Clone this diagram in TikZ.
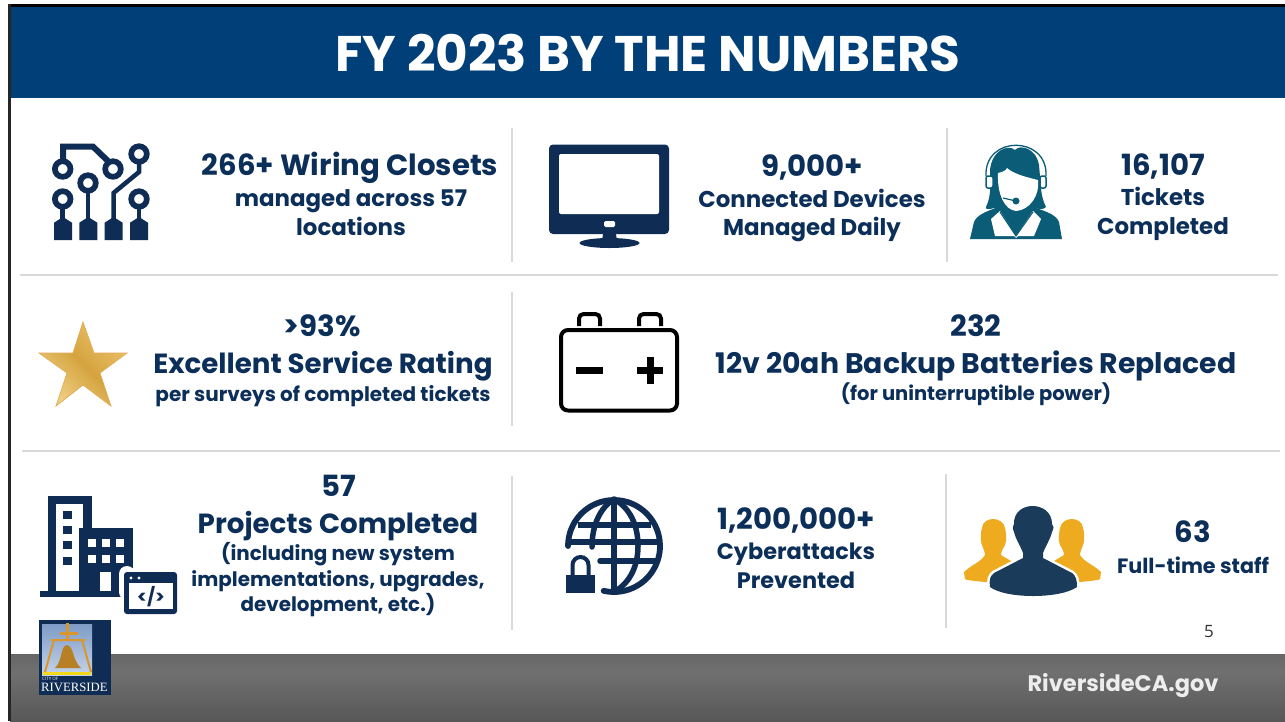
\documentclass[tikz,border=0pt]{standalone}
\usepackage{fontspec}
\setmainfont{Poppins}
\newfontfamily\serifface{Liberation Serif}
\newfontfamily\plainface{Open Sans}
\definecolor{navy}{HTML}{0F2D54}
\definecolor{txtnavy}{HTML}{0C2F5A}
\definecolor{banner}{HTML}{003F77}
\definecolor{teal}{HTML}{0B5C77}
\definecolor{rule}{HTML}{D9D9D9}
\definecolor{gold}{HTML}{EEAB1F}
\definecolor{dkblue}{HTML}{1B3B5A}
\definecolor{grayA}{HTML}{666666}
\definecolor{grayM}{HTML}{707070}
\definecolor{grayB}{HTML}{575757}
\definecolor{brass}{HTML}{D9962A}
\definecolor{starA}{HTML}{F0D084}
\definecolor{starB}{HTML}{D5A440}
\definecolor{starC}{HTML}{EBC068}
\definecolor{skyA}{HTML}{7E9CC6}
\definecolor{skyB}{HTML}{C5D3EA}
\tikzset{
 txt/.style={align=center,text=txtnavy,inner sep=0pt},
 big/.style={txt,font=\bfseries\fs{29.2}{32}},
 mid/.style={txt,font=\bfseries\fs{27.7}{32}},
 lab/.style={txt,font=\bfseries\fs{22.9}{28.8}},
 sml/.style={txt,font=\bfseries\fs{20}{24}},
 ruleline/.style={draw=rule,line width=2.5pt},
 trace/.style={draw=navy,line width=5.7pt,fill=white},
 tr/.style={draw=navy,line width=4.5pt,line join=miter},
}
\newcommand{\fs}[2]{\fontsize{#1}{#2}\selectfont}
\begin{document}
\begin{tikzpicture}[x=1pt,y=-1pt]
\useasboundingbox (0,0) rectangle (1285,721);
\fill[white] (0,0) rectangle (1285,721);
% banner and footer
\fill[banner] (9,5) rectangle (1285,98);
\shade[top color=grayA,bottom color=grayM] (10,654) rectangle (1285,672);
\shade[top color=grayM,bottom color=grayB] (10,672) rectangle (1285,721);
\fill[black] (8,4) rectangle (1285,7);
\fill[black!85] (8,4) rectangle (10.5,721);
\node[text=white,font=\bfseries\fs{50}{54},inner sep=0pt] (title) at (648,52.5) {FY 2023 BY THE NUMBERS};
% rules
\draw[ruleline] (20,275) -- (1278,275);
\draw[ruleline] (22,451) -- (1280,451);
\draw[ruleline] (512,128) -- (512,262);
\draw[ruleline] (947,128) -- (947,262);
\draw[ruleline] (512,292) -- (512,426);
\draw[ruleline] (512,476) -- (512,630);
\draw[ruleline] (946,474) -- (946,628);
% texts
\node[big] (a1) at (350,167.5) {266+ Wiring Closets};
\node[lab] (a2) at (351,212.5) {managed across 57\\locations};
\node[big] (b1) at (812,167.5) {9,000+};
\node[lab] (b2) at (812,215.5) {Connected Devices\\Managed Daily};
\node[big] (c1) at (1163,166.5) {16,107};
\node[lab] (c2) at (1163,214) {Tickets\\Completed};
\node[big] (d1) at (322,326) {>93\%};
\node[mid] (d2) at (323,366) {Excellent Service Rating};
\node[sml] (d3) at (323,396) {per surveys of completed tickets};
\node[big] (e1) at (976,326) {232};
\node[mid,font=\bfseries\fs{28.3}{32}] (e2) at (976,366) {12v 20ah Backup Batteries Replaced};
\node[sml,font=\bfseries\fs{19.5}{24}] (e3) at (976,394) {(for uninterruptible power)};
\node[big] (f1) at (339,486) {57};
\node[mid] (f2) at (338,526) {Projects Completed};
\node[txt,font=\bfseries\fs{19.9}{25.5}] (f3) at (338,580) {(including new system\\implementations, upgrades,\\development, etc.)};
\node[big] (g1) at (796,520.5) {1,200,000+};
\node[lab,font=\bfseries\fs{22.4}{28.8}] (g2) at (796,566) {Cyberattacks\\Prevented};
\node[big] (h1) at (1193,532) {63};
\node[lab,font=\bfseries\fs{20.7}{28}] (h2) at (1193,565) {Full-time staff};
\node[text=black!80,font=\plainface\fs{17}{20},inner sep=0pt] (pg) at (1209,632) {5};
\node[text=white!93!black,font=\bfseries\fs{22.5}{28},inner sep=0pt] (web) at (1123,686) {RiversideCA.gov};
% circuit icon
\draw[draw=navy,line width=6pt,line join=miter] (63,165) -- (63,146.6) -- (93,146.6) -- (110,163);
\draw[tr] (88,180) -- (88,225);
\draw[tr] (62.7,195) -- (62.7,225);
\draw[tr] (139,160) -- (139,172) -- (113.5,193) -- (113.5,225);
\draw[tr] (139,195) -- (139,225);
\foreach \x in {54,79.3,104.6,130}{
 \fill[navy] (\x,240) -- (\x,222.7) -- (\x+9,217) -- (\x+18,222.7) -- (\x+18,240) -- cycle;}
\draw[trace] (62.7,169) circle (7.8);
\draw[trace] (88,183) circle (7.8);
\draw[trace] (113,169) circle (7.8);
\draw[trace] (62.7,199) circle (7.8);
\draw[trace] (139,154) circle (7.8);
\draw[trace] (139,199) circle (7.8);
% monitor
\fill[navy,rounded corners=4pt] (549,144.5) rectangle (669,234);
\fill[white,rounded corners=2pt] (559,154) rectangle (659,214);
\fill[white,rounded corners=1.5pt] (604,221) rectangle (615,227);
\fill[navy] (603,234) -- (616,234) -- (617,241) -- (602,241) -- cycle;
\fill[navy] (609.5,243) ellipse (30 and 5);
% agent
\fill[teal] (970,239) -- (974,222) .. controls (977,215) and (985,212) .. (998,207) -- (1033,207) .. controls (1048,212) and (1056,215) .. (1059,222) -- (1062,239) -- cycle;
\fill[teal] (1015,150) .. controls (1020,144) and (1036,148) .. (1039,165) .. controls (1041,185) and (1040,195) .. (1046,207) .. controls (1044,210) and (1038,209) .. (1034,208) -- (994,208) .. controls (988,210) and (985,209) .. (986,207) .. controls (992,195) and (990,180) .. (990,170) .. controls (992,150) and (1008,144) .. (1015,150) -- cycle;
\fill[white] (998,173) .. controls (1002,172) and (1006,171) .. (1007,168) .. controls (1012,173) and (1025,177) .. (1038,180) .. controls (1040,195) and (1030,210) .. (1016,211) .. controls (1005,210) and (997,195) .. (998,173) -- cycle;
\fill[white] (991,219) -- (1000,211) -- (1016,236) -- (1033,211) -- (1041,219) -- (1034,236) -- (1018,236) -- (1016,238) -- (1014,236) -- (995,236) -- cycle;
\draw[teal,line width=1pt] (1000,212) -- (1016,236) -- (1033,212);
\draw[teal,line width=1.3pt] (986,176) .. controls (984,135) and (1048,135) .. (1046,176);
\draw[teal,fill=white,line width=1.5pt,rounded corners=2pt] (986,176) rectangle (993,188);
\draw[teal,fill=white,line width=1.5pt,rounded corners=2pt] (1040,176) rectangle (1046,188);
\draw[teal,line width=1.2pt] (1003,198) -- (1016,201);
\fill[teal] (1016,201) circle (3.5);
% star
\shade[left color=starA,right color=starC,middle color=starB,shading angle=135,draw=brass!80!white,line width=.7pt]
 (83,322) -- (94,353) -- (127,353) -- (100,373) -- (111,406) -- (83,385) -- (56,406) -- (67,373) -- (39,353) -- (73,353) -- cycle;
% battery
\draw[black,line width=4pt,rounded corners=7pt] (561,330) rectangle (677,410.5);
\draw[black,line width=4pt,rounded corners=4.5pt] (579,326) -- (579,314) -- (600,314) -- (600,326);
\draw[black,line width=4pt,rounded corners=4.5pt] (639,326) -- (639,314) -- (661,314) -- (661,326);
\fill[black] (576,367) rectangle (603,374);
\fill[black] (637,367) rectangle (663,374);
\fill[black] (647,357) rectangle (654,384);
% building
\fill[navy] (48,496) rectangle (92,591);
\fill[white] (56,504) rectangle (83,591);
\fill[navy] (79,528) rectangle (133,597);
\fill[navy] (40,591) rectangle (125,597);
\foreach \y in {511,526,541,557}{\fill[navy] (63,\y) rectangle (72,\y+8);}
\foreach \x in {88,102,116}{\foreach \y in {539,555}{\fill[white] (\x,\y) rectangle (\x+8,\y+8);}}
\fill[white] (100,572) rectangle (111,591);
\fill[white,rounded corners=8pt] (119,566) rectangle (135,600);
\fill[navy,rounded corners=3pt] (124,572) rectangle (177,614);
\fill[white] (129,583) rectangle (173,609);
\fill[white] (131,578) circle (1.6) (139,578) circle (1.6);
\node[text=navy,font=\bfseries\fs{18}{20},inner sep=0pt] (code) at (151,597) {</>};
% globe
\draw[navy,line width=5.8pt,line cap=round] (568,546) arc (180:463:46);
\draw[navy,line width=5.5pt] (614,499) -- (614,592);
\draw[navy,line width=5.5pt] (578,525) -- (651,525);
\draw[navy,line width=5.5pt] (568,542) -- (660,542);
\draw[navy,line width=5.5pt,line cap=round] (600,561) -- (657,561);
\draw[navy,line width=5.5pt,line cap=round] (592,547) .. controls (592,525) and (600,508) .. (614,499);
\draw[navy,line width=5.5pt] (614,499) .. controls (630,508) and (638,525) .. (638,546) .. controls (638,566) and (630,583) .. (614,592);
\fill[navy] (566,575) rectangle (595,593);
\draw[navy,line width=4pt] (572.5,576) -- (572.5,565) arc (-180:0:8) -- (588.5,576);
% people
\foreach \d/\s in {993/1,1072/-1}{
\fill[gold] (\d+\s*-29,572) .. controls (\d+\s*-22,565) and (\d+\s*-12,562) .. (\d+\s*-8,555) .. controls (\d+\s*-8,552) and (\d+\s*-10,548) .. (\d+\s*-11,545) .. controls (\d+\s*-13,541) and (\d+\s*-12,530) .. (\d+\s*-11,528) .. controls (\d+\s*-10,516) and (\d+\s*10,516) .. (\d+\s*12,528) .. controls (\d+\s*13,532) and (\d+\s*14,541) .. (\d+\s*12,545) .. controls (\d+\s*10,548) and (\d+\s*8,552) .. (\d+\s*8,555) -- (\d+\s*18,561) -- (\d+\s*20,582) -- (\d+\s*-8,582) .. controls (\d+\s*-18,581) and (\d+\s*-28,580) .. (\d+\s*-28,579) -- cycle;}
\fill[dkblue,preaction={draw=white,line width=5pt}] (990,587) .. controls (989,580) and (990,576) .. (994,573) -- (1023,558) -- (1023,553) .. controls (1020,545) and (1016,540) .. (1014,532) .. controls (1012,528) and (1013,525) .. (1014,524) .. controls (1013,500) and (1052,500) .. (1052,524) .. controls (1054,526) and (1054,528) .. (1052,532) .. controls (1050,540) and (1046,545) .. (1043,553) -- (1043,558) -- (1072,573) .. controls (1076,576) and (1077,580) .. (1077,587) .. controls (1060,599) and (1006,599) .. (990,587) -- cycle;
% seal
\fill[navy] (39,620) rectangle (111,695);
\shade[top color=skyA,bottom color=skyB] (42,624) rectangle (92,675);
\fill[brass] (66,623) rectangle (69,640);
\fill[brass] (60,632) rectangle (78,635);
\draw[brass,line width=2pt] (51,640) -- (85,640) (54,640) -- (45,672) (82,640) -- (91,672);
\fill[yellow!70!brass] (43,672) rectangle (91,675);
\fill[brass!85!black] (55,668) .. controls (63,660) and (60,646) .. (67,645) .. controls (74,646) and (72,660) .. (81,668) -- cycle;
\node[text=white,font=\plainface\fs{4.5}{5},inner sep=0pt,anchor=west] (cityof) at (42,679) {CITY OF};
\node[text=white,font=\serifface\fs{12.7}{14},inner sep=0pt,anchor=west] (riv) at (41,687.5) {RIVERSIDE};
\end{tikzpicture}
\end{document}
